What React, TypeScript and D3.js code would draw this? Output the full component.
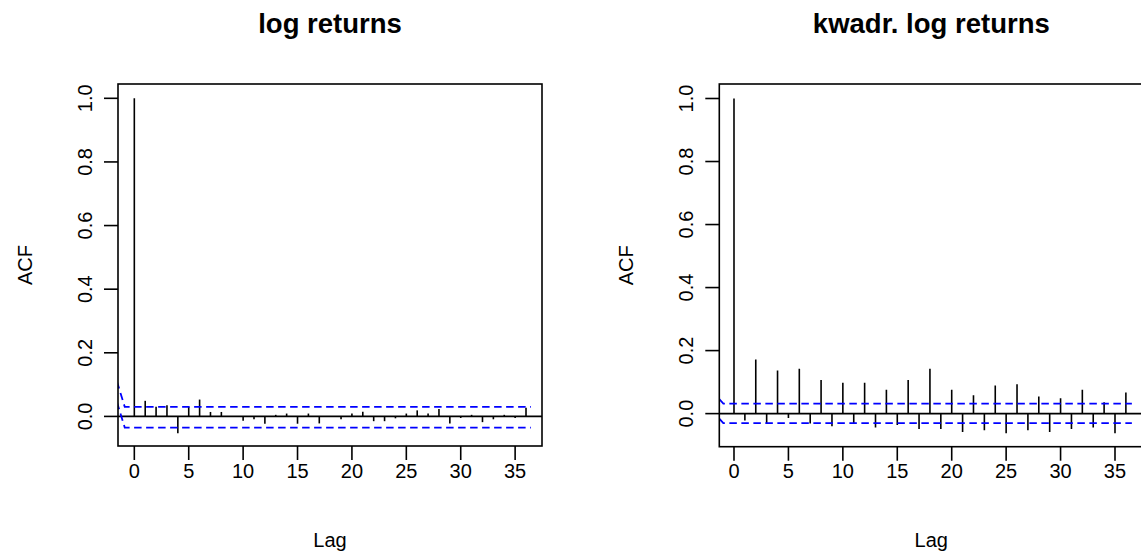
import React from "react";
import * as d3 from "d3";

const lags: number[] = d3.range(0, 37);
const acfLog: number[] = [1, 0.049, 0.030, 0.035, -0.053, 0.030, 0.053, 0.014, 0.014, 0.001, -0.014, -0.009, -0.023, 0.005, 0.009, -0.023, 0.009, -0.022, 0.001, -0.009, 0.009, 0.015, -0.015, -0.015, -0.006, 0.009, 0.019, 0.009, 0.023, -0.022, -0.005, 0.005, -0.018, -0.009, 0.005, -0.005, 0.027];
const acfSq: number[] = [1, -0.022, 0.172, -0.031, 0.137, -0.014, 0.142, -0.031, 0.107, -0.040, 0.098, -0.031, 0.098, -0.044, 0.076, -0.036, 0.107, -0.049, 0.142, -0.049, 0.076, -0.058, 0.058, -0.053, 0.089, -0.062, 0.093, -0.053, 0.054, -0.058, 0.049, -0.049, 0.076, -0.044, 0.036, -0.062, 0.067];

const ciLagsLog: number[] = [-1.6, -0.88, 36.45];
const ciUpperLog: number[] = [0.11, 0.030, 0.030];
const ciLowerLog: number[] = [0.045, -0.035, -0.035];
const ciLagsSq: number[] = [-1.35, -0.98, 36.55];
const ciUpperSq: number[] = [0.046, 0.032, 0.032];
const ciLowerSq: number[] = [-0.016, -0.030, -0.030];

const xTicks: number[] = [0, 5, 10, 15, 20, 25, 30, 35];
const yTicks: number[] = [0, 0.2, 0.4, 0.6, 0.8, 1.0];
const titles: string[] = ["log returns", "kwadr. log returns"];

const FONT = "'Liberation Sans', Arial, Helvetica, sans-serif";

type PanelProps = {
  id: string;
  title: string;
  acf: number[];
  ciLags: number[];
  ciUpper: number[];
  ciLower: number[];
  left: number;
  right: number;
  top: number;
  bottom: number;
  xDomain: [number, number];
  yDomain: [number, number];
};

function Panel(p: PanelProps) {
  const x = d3.scaleLinear().domain(p.xDomain).range([p.left, p.right]);
  const y = d3.scaleLinear().domain(p.yDomain).range([p.bottom, p.top]);
  const line = d3
    .line<number>()
    .x((_, i) => x(p.ciLags[i]))
    .y((d) => y(d));
  const cx = (p.left + p.right) / 2;
  const cy = (p.top + p.bottom) / 2;
  const tick = 14;
  return (
    <g>
      <defs>
        <clipPath id={p.id}>
          <rect x={p.left} y={p.top} width={p.right - p.left} height={p.bottom - p.top} />
        </clipPath>
      </defs>
      <text x={cx} y={33} textAnchor="middle" fontFamily={FONT} fontWeight="bold" fontSize={27.5}>
        {p.title}
      </text>
      <g clipPath={`url(#${p.id})`}>
        <line x1={p.left} x2={p.right} y1={y(0)} y2={y(0)} stroke="#000" strokeWidth={1.6} />
        {lags.map((l, i) => (
          <line key={l} x1={x(l)} x2={x(l)} y1={y(0)} y2={y(p.acf[i])} stroke="#000" strokeWidth={1.6} />
        ))}
        <path d={line(p.ciUpper) || ""} fill="none" stroke="#0000ff" strokeWidth={1.8} strokeDasharray="7.5,4.5" />
        <path d={line(p.ciLower) || ""} fill="none" stroke="#0000ff" strokeWidth={1.8} strokeDasharray="7.5,4.5" />
      </g>
      <rect x={p.left} y={p.top} width={p.right - p.left} height={p.bottom - p.top} fill="none" stroke="#000" strokeWidth={1.6} />
      {xTicks.map((t) => (
        <g key={"x" + t}>
          <line x1={x(t)} x2={x(t)} y1={p.bottom} y2={p.bottom + tick} stroke="#000" strokeWidth={1.6} />
          <text x={x(t)} y={478} textAnchor="middle" fontFamily={FONT} fontSize={20}>
            {t}
          </text>
        </g>
      ))}
      {yTicks.map((t) => (
        <g key={"y" + t}>
          <line x1={p.left - tick} x2={p.left} y1={y(t)} y2={y(t)} stroke="#000" strokeWidth={1.6} />
          <text
            transform={`translate(${p.left - 26.5},${y(t)}) rotate(-90)`}
            textAnchor="middle"
            fontFamily={FONT}
            fontSize={20}
          >
            {t.toFixed(1)}
          </text>
        </g>
      ))}
      <text x={cx} y={547} textAnchor="middle" fontFamily={FONT} fontSize={20}>
        Lag
      </text>
      <text transform={`translate(${p.left - 86},${cy}) rotate(-90)`} textAnchor="middle" fontFamily={FONT} fontSize={20}>
        ACF
      </text>
    </g>
  );
}

export default function App() {
  return (
    <svg
      width={1141}
      height={559}
      style={{ position: "absolute", left: 0, top: 0, background: "#fff", display: "block" }}
    >
      <rect x={0} y={0} width={1141} height={559} fill="#fff" />
      <Panel
        id="clipA"
        title={titles[0]}
        acf={acfLog}
        ciLags={ciLagsLog}
        ciUpper={ciUpperLog}
        ciLower={ciLowerLog}
        left={118}
        right={542}
        top={84}
        bottom={446}
        xDomain={[-1.5, 37.47]}
        yDomain={[-0.093, 1.045]}
      />
      <Panel
        id="clipB"
        title={titles[1]}
        acf={acfSq}
        ciLags={ciLagsSq}
        ciUpper={ciUpperSq}
        ciLower={ciLowerSq}
        left={719.3}
        right={1143.3}
        top={84}
        bottom={446.7}
        xDomain={[-1.35, 37.6]}
        yDomain={[-0.105, 1.046]}
      />
    </svg>
  );
}
